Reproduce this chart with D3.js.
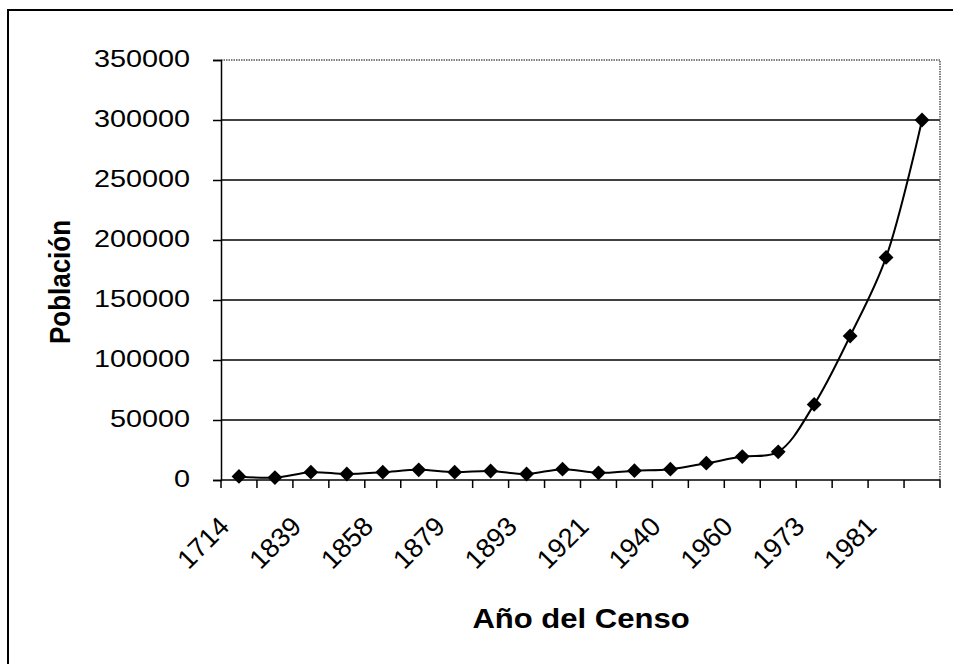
<!DOCTYPE html>
<html>
<head>
<meta charset="utf-8">
<script src="https://cdn.jsdelivr.net/npm/d3@7"></script>
<style>
  body { margin: 0; background: #fff; }
  text { font-family: Arial, "Liberation Sans", sans-serif; fill: #000; }
</style>
</head>
<body>
<div id="chart"></div>
<script>
// census values, one per category (only every other year is labelled)
var population = [3000, 2000, 6500, 5000, 6500, 8500, 6500, 7500, 5000, 9000,
                  6000, 7800, 9000, 14000, 19500, 23500, 63000, 120000, 185500, 300000];
var yearLabels = ["1714", "1839", "1858", "1879", "1893", "1921", "1940", "1960", "1973", "1981"];
var yTicks = [0, 50000, 100000, 150000, 200000, 250000, 300000, 350000];

var width = 953, height = 664;
var plot = {left: 221, right: 940, top: 60, bottom: 480};

var svg = d3.select("#chart")
  .append("svg")
    .attr("width", width)
    .attr("height", height);

svg.append("rect").attr("width", width).attr("height", height).attr("fill", "#fff");

// outer chart border (only left and top are visible)
svg.append("path")
  .attr("d", "M8," + height + "V10H" + width)
  .attr("fill", "none")
  .attr("stroke", "#000")
  .attr("stroke-width", 2);

var x = d3.scaleBand()
  .domain(d3.range(population.length))
  .range([plot.left, plot.right]);

var y = d3.scaleLinear()
  .domain([0, 350000])
  .range([plot.bottom, plot.top]);

// gridlines
svg.selectAll(".grid")
  .data(yTicks.filter(function(d){ return d > 0 && d < 350000 }))
  .enter()
  .append("line")
    .attr("x1", plot.left)
    .attr("x2", plot.right)
    .attr("y1", function(d){ return y(d) })
    .attr("y2", function(d){ return y(d) })
    .attr("stroke", "#000")
    .attr("stroke-width", 1.5);

// dotted plot area border (top and right)
svg.append("path")
  .attr("d", "M" + plot.left + "," + plot.top + "H" + plot.right + "V" + plot.bottom)
  .attr("fill", "none")
  .attr("stroke", "#555")
  .attr("stroke-width", 1.5)
  .attr("stroke-dasharray", "1.5,1");

// y axis
var yAxis = d3.axisLeft(y).tickValues(yTicks).tickSize(8).tickFormat(function(d){ return "" });
svg.append("g")
  .attr("transform", "translate(" + plot.left + ",0)")
  .call(yAxis)
  .call(function(g){ g.selectAll("path, line").attr("stroke", "#000").attr("stroke-width", 1.5) });

svg.selectAll(".ylab")
  .data(yTicks)
  .enter()
  .append("text")
    .attr("transform", function(d){ return "translate(190," + (y(d) + 7) + ") scale(1.2,1)" })
    .attr("text-anchor", "end")
    .attr("font-size", 24)
    .text(function(d){ return d });

// x axis line + ticks at category boundaries
svg.append("line")
  .attr("x1", plot.left).attr("x2", plot.right)
  .attr("y1", plot.bottom).attr("y2", plot.bottom)
  .attr("stroke", "#000").attr("stroke-width", 1.5);

var bounds = d3.range(population.length + 1).map(function(i){ return plot.left + i * x.step() });
svg.selectAll(".xtick")
  .data(bounds)
  .enter()
  .append("line")
    .attr("x1", function(d){ return d }).attr("x2", function(d){ return d })
    .attr("y1", plot.bottom).attr("y2", plot.bottom + 8)
    .attr("stroke", "#000").attr("stroke-width", 1.5);

svg.selectAll(".xlab")
  .data(yearLabels)
  .enter()
  .append("text")
    .attr("transform", function(d, i){
      var cx = x(i * 2) + x.bandwidth() / 2;
      return "translate(" + (cx - 8) + "," + (plot.bottom + 48) + ") rotate(-45)";
    })
    .attr("text-anchor", "end")
    .attr("font-size", 27)
    .text(function(d){ return d });

// line
var line = d3.line()
  .x(function(d, i){ return x(i) + x.bandwidth() / 2 })
  .y(function(d){ return y(d) })
  .curve(d3.curveCatmullRom.alpha(0.5));

svg.append("path")
  .datum(population)
  .attr("d", line)
  .attr("fill", "none")
  .attr("stroke", "#000")
  .attr("stroke-width", 2);

// diamond markers
svg.selectAll(".pt")
  .data(population)
  .enter()
  .append("path")
    .attr("d", d3.symbol(d3.symbolSquare, 110))
    .attr("transform", function(d, i){
      return "translate(" + (x(i) + x.bandwidth() / 2) + "," + y(d) + ") rotate(45)";
    })
    .attr("fill", "#000");

// axis titles
svg.append("text")
  .attr("transform", "translate(70,282) scale(1.15,1) rotate(-90)")
  .attr("text-anchor", "middle")
  .attr("font-size", 26)
  .attr("font-weight", "bold")
  .text("Población");

svg.append("text")
  .attr("transform", "translate(581,628) scale(1.15,1)")
  .attr("text-anchor", "middle")
  .attr("font-size", 27)
  .attr("font-weight", "bold")
  .text("Año del Censo");
</script>
</body>
</html>
